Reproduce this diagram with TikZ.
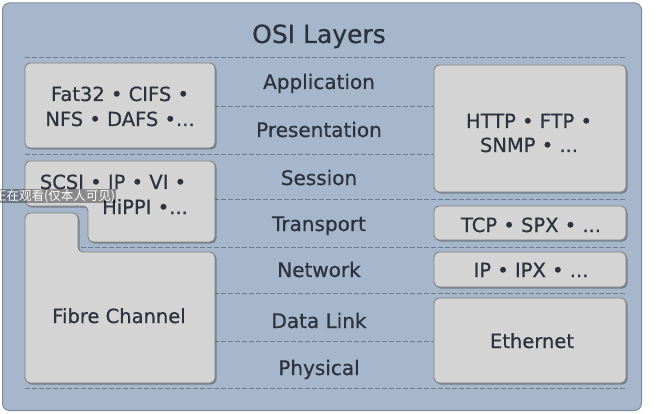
\documentclass[tikz,border=0pt]{standalone}
\usepackage{fontspec}
\setmainfont{DejaVu Sans}
\newfontfamily\lbl{DejaVu Sans}[FakeBold=0.7]
\newfontfamily\cjk{Noto Sans CJK SC}
\usetikzlibrary{shadows}
\definecolor{panelfill}{RGB}{167,183,203}
\definecolor{panelline}{RGB}{125,138,155}
\definecolor{boxfill}{RGB}{212,212,212}
\definecolor{boxline}{RGB}{128,128,128}
\definecolor{txt}{RGB}{44,50,62}
\definecolor{dashcol}{RGB}{110,125,142}
\begin{document}
\begin{tikzpicture}[x=1pt,y=-1pt,
  boxshape/.style={draw=boxline, fill=boxfill, line width=0.9pt, rounded corners=5pt,
    drop shadow={shadow xshift=1.5pt, shadow yshift=-1.5pt, opacity=0.3, fill=black}},
  boxtext/.style={text=txt, font=\lbl\fontsize{19.5}{24}\selectfont, anchor=base, inner sep=0pt},
  layer/.style={text=txt, font=\lbl\fontsize{20}{24}\selectfont, anchor=base, inner sep=0pt},
  sep/.style={draw=dashcol, line width=1pt, dash pattern=on 4.5pt off 2.5pt}]

\useasboundingbox (0,0) rectangle (663,414);
\fill[white] (0,0) rectangle (663,414);
\draw[panelline, fill=panelfill, line width=1pt, rounded corners=7pt] (2.5,3) rectangle (641.5,410.5);

\node[layer, font=\lbl\fontsize{25}{30}\selectfont] (title) at (319,43) {OSI Layers};

\foreach \yy in {58,107,155,199,247,293,341,388} \draw[sep] (25,\yy) -- (626,\yy);

\node[layer] (app) at (319,89) {Application};
\node[layer] (pres) at (319,137) {Presentation};
\node[layer] (sess) at (319,185) {Session};
\node[layer] (trans) at (319,231) {Transport};
\node[layer] (net) at (319,277) {Network};
\node[layer] (dl) at (319,328) {Data Link};
\node[layer] (phys) at (319,375) {Physical};

% left boxes
\node[boxshape, minimum width=190pt, minimum height=85pt, inner sep=0pt] (fat) at (120,105.5) {};
\node[boxtext] (fat1) at (120,101) {Fat32 • CIFS •};
\node[boxtext] (fat2) at (120,126) {NFS • DAFS •...};

\path[boxshape] (25,161) -- (215,161) -- (215,242) -- (88,242) -- (88,206) -- (25,206) -- cycle;
\node[boxtext] (scsi1) at (113,189) {SCSI • IP • VI •};
\node[boxtext] (scsi2) at (145,214) {HiPPI •...};

\path[boxshape] (25,213) -- (78,213) -- (78,252) -- (215,252) -- (215,383) -- (25,383) -- cycle;
\node[boxtext] (fibre) at (119,323) {Fibre Channel};

% right boxes
\node[boxshape, minimum width=192pt, minimum height=127pt, inner sep=0pt] (http) at (530,128.5) {};
\node[boxtext] (http1) at (529,128) {HTTP • FTP •};
\node[boxtext] (http2) at (529,152) {SNMP • ...};

\node[boxshape, minimum width=192pt, minimum height=34pt, inner sep=0pt] (tcp) at (530,223) {};
\node[boxtext] (tcpt) at (531,232) {TCP • SPX • ...};

\node[boxshape, minimum width=192pt, minimum height=35pt, inner sep=0pt] (ip) at (530,269.5) {};
\node[boxtext] (ipt) at (531,277) {IP • IPX • ...};

\node[boxshape, minimum width=192pt, minimum height=85pt, inner sep=0pt] (eth) at (530,340.5) {};
\node[boxtext] (etht) at (532,348) {Ethernet};

% screen overlay
\node[anchor=west, fill=black, fill opacity=0.35, text opacity=1, text=white, inner sep=1pt,
  font=\cjk\fontsize{12.5}{12.5}\selectfont] (overlay) at (-7,196) {正在观看(仅本人可见)};
\end{tikzpicture}
\end{document}
